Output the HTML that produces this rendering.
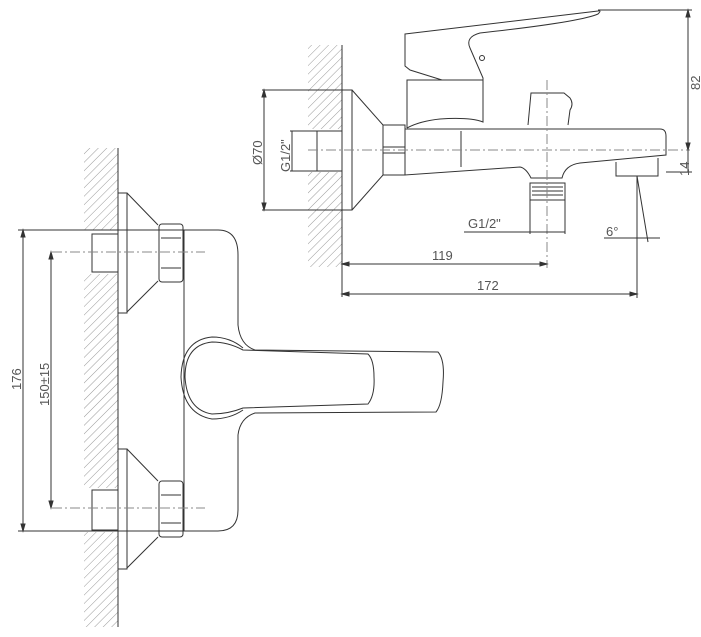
<!DOCTYPE html>
<html><head><style>html,body{margin:0;padding:0;background:#fff}svg{display:block}</style></head>
<body>
<svg width="701" height="637" viewBox="0 0 701 637" xmlns="http://www.w3.org/2000/svg" font-family="Liberation Sans, sans-serif" fill="none" stroke="#333" stroke-width="1">
<defs>
<pattern id="h" width="6" height="6" patternUnits="userSpaceOnUse" patternTransform="rotate(45)">
<line x1="0" y1="0" x2="0" y2="6" stroke="#999" stroke-width="1"/>
</pattern>
</defs>
<!-- FRONT VIEW -->
<rect x="84" y="148" width="34" height="82" fill="url(#h)" stroke="none"/>
<rect x="84" y="274" width="34" height="214" fill="url(#h)" stroke="none"/>
<rect x="84" y="532" width="34" height="95" fill="url(#h)" stroke="none"/>
<line x1="118" y1="148" x2="118" y2="627"/>
<rect x="92" y="234" width="26" height="38"/>
<rect x="118" y="193" width="9" height="120"/>
<polyline points="127,193 158,225"/><polyline points="127,312 158,281"/>
<rect x="159" y="224" width="24" height="58" rx="3"/>
<line x1="161" y1="238" x2="181" y2="238"/><line x1="161" y1="268" x2="181" y2="268"/>
<rect x="92" y="490" width="26" height="40"/>
<rect x="118" y="449" width="9" height="120"/>
<polyline points="127,449 158,481"/><polyline points="127,568 158,537"/>
<rect x="159" y="481" width="24" height="56" rx="3"/>
<line x1="161" y1="495" x2="181" y2="495"/><line x1="161" y1="523" x2="181" y2="523"/>
<line x1="184" y1="230" x2="184" y2="531"/>
<path d="M85 230 H218 Q238 230 238 255 V325 Q240 345 255 350 L438 352 Q445 360 443 382 Q442 405 436 412 L255 413 Q240 418 238 435 V510 Q238 531 218 531 H85"/>
<path d="M243 348 Q230 337 212 337 Q182 340 181 377 Q183 414 212 419 Q230 419 243 410"/>
<path d="M243 350 Q228 342 212 342 Q185 345 185 377 Q187 410 212 414 Q228 414 243 408 L368 404 Q375 395 374 377 Q374 360 368 354 Z"/>
<line x1="52" y1="252" x2="205" y2="252" stroke="#888" stroke-dasharray="10,3,2,3"/>
<line x1="52" y1="508" x2="205" y2="508" stroke="#888" stroke-dasharray="10,3,2,3"/>
<line x1="18" y1="230" x2="85" y2="230"/><line x1="18" y1="531" x2="85" y2="531"/>
<line x1="23" y1="230" x2="23" y2="531"/>
<path d="M23 230 l-2 7 h4z M23 531 l-2 -7 h4z" fill="#333"/>
<line x1="51" y1="252" x2="51" y2="508"/>
<path d="M51 252 l-2 7 h4z M51 508 l-2 -7 h4z" fill="#333"/>
<g fill="#555" stroke="none" font-size="13">
<text transform="translate(21,390) rotate(-90)">176</text>
<text transform="translate(49,406) rotate(-90)">150±15</text>
</g>
<!-- SIDE VIEW -->
<rect x="308" y="45" width="34" height="84" fill="url(#h)" stroke="none"/>
<rect x="308" y="172" width="34" height="95" fill="url(#h)" stroke="none"/>
<line x1="342" y1="45" x2="342" y2="297"/>
<rect x="317" y="131" width="25" height="40"/>
<rect x="342" y="90" width="10" height="120"/>
<polyline points="352,90 383,125"/><polyline points="352,210 383,175"/>
<rect x="383" y="125" width="22" height="50"/>
<line x1="383" y1="147" x2="405" y2="147"/><line x1="383" y1="153" x2="405" y2="153"/>
<path d="M405 129 H660 Q666 129 666 136 V155 L580 163 Q565 165 562 178 L531 178 Q526 168 520 167 L405 175 Z"/>
<line x1="461" y1="131" x2="461" y2="167"/>
<path d="M616 162 V176 H658 V158"/>
<rect x="530" y="183" width="35" height="17"/>
<line x1="532" y1="187" x2="563" y2="187"/><line x1="532" y1="191" x2="563" y2="191"/><line x1="532" y1="195" x2="563" y2="195"/>
<!-- mixer body -->
<path d="M407 128 V80 H483 V122 Q470 117 440 119 Q420 121 407 128"/>
<path d="M405 34 L598 11 Q602 10 598 14 Q580 22 480 33 Q465 37 470 48 L483 78 V80 L442 80 L410 70 L405 66 Z"/>
<circle cx="482" cy="58" r="2.5"/>
<path d="M528 125 L531 93 H564 L570 98 Q574 104 570 110 L568 125"/>
<line x1="308" y1="150" x2="690" y2="150" stroke="#888" stroke-dasharray="10,3,2,3"/>
<line x1="547" y1="80" x2="547" y2="268" stroke="#888" stroke-dasharray="10,3,2,3"/>
<line x1="598" y1="10" x2="692" y2="10"/><line x1="688" y1="10" x2="688" y2="150"/>
<path d="M688 10 l-2 7 h4z M688 150 l-2 -7 h4z" fill="#333"/>
<line x1="666" y1="172" x2="692" y2="172"/><line x1="688" y1="150" x2="688" y2="172"/>
<line x1="264" y1="90" x2="264" y2="210"/><line x1="262" y1="90" x2="342" y2="90"/><line x1="262" y1="210" x2="342" y2="210"/>
<path d="M264 90 l-2 7 h4z M264 210 l-2 -7 h4z" fill="#333"/>
<line x1="292" y1="131" x2="292" y2="171"/><line x1="290" y1="131" x2="317" y2="131"/><line x1="290" y1="171" x2="317" y2="171"/>
<line x1="530" y1="200" x2="530" y2="234"/><line x1="565" y1="200" x2="565" y2="234"/>
<line x1="464" y1="232" x2="565" y2="232"/>
<line x1="342" y1="264" x2="547" y2="264"/>
<path d="M342 264 l7 -2 v4z M547 264 l-7 -2 v4z" fill="#333"/>
<line x1="342" y1="294" x2="637" y2="294"/><line x1="637" y1="176" x2="637" y2="298"/>
<path d="M342 294 l7 -2 v4z M637 294 l-7 -2 v4z" fill="#333"/>
<line x1="637" y1="176" x2="648" y2="242"/>
<line x1="604" y1="238" x2="660" y2="238"/>
<g fill="#555" stroke="none" font-size="13">
<text transform="translate(700,90) rotate(-90)">82</text>
<text transform="translate(689,176) rotate(-90)">14</text>
<text transform="translate(262,165) rotate(-90)">Ø70</text>
<text transform="translate(290,172) rotate(-90)">G1/2"</text>
<text x="468" y="228">G1/2"</text>
<text x="432" y="260">119</text>
<text x="477" y="290">172</text>
<text x="606" y="236">6°</text>
</g>
</svg>
</body></html>
